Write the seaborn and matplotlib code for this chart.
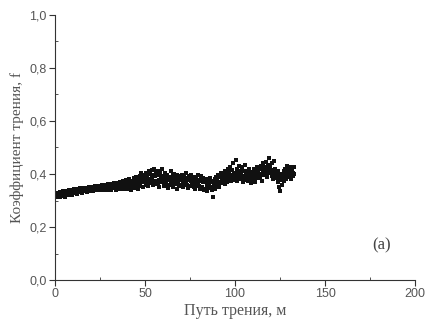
import numpy as np
import pandas as pd
import matplotlib
matplotlib.use("Agg")
import matplotlib.pyplot as plt
from matplotlib.ticker import MultipleLocator, FuncFormatter
import seaborn as sns

# friction coefficient measured along the friction path (sampling step ~0.333 m)
step_m = 133.3 / 400
friction = [
    0.318,0.325,0.312,0.330,0.321,0.316,0.327,0.319,0.333,0.314,
    0.322,0.329,0.317,0.334,0.320,0.326,0.313,0.331,0.324,0.319,
    0.336,0.324,0.331,0.341,0.322,0.333,0.328,0.338,0.320,0.335,
    0.339,0.328,0.343,0.331,0.336,0.345,0.326,0.340,0.333,0.337,
    0.341,0.332,0.346,0.336,0.343,0.329,0.340,0.348,0.334,0.339,
    0.344,0.335,0.349,0.338,0.333,0.346,0.341,0.350,0.336,0.343,
    0.339,0.347,0.352,0.336,0.344,0.341,0.354,0.338,0.349,0.345,
    0.351,0.342,0.356,0.339,0.348,0.345,0.353,0.340,0.357,0.347,
    0.344,0.353,0.339,0.358,0.349,0.346,0.355,0.341,0.350,0.361,
    0.356,0.343,0.352,0.362,0.340,0.349,0.358,0.346,0.365,0.351,
    0.347,0.360,0.338,0.355,0.366,0.350,0.343,0.361,0.353,0.371,
    0.362,0.345,0.368,0.351,0.374,0.342,0.359,0.366,0.348,0.378,
    0.352,0.371,0.345,0.365,0.380,0.356,0.340,0.369,0.375,0.350,
    0.372,0.355,0.385,0.348,0.368,0.390,0.360,0.377,0.343,0.381,
    0.365,0.392,0.354,0.380,0.402,0.368,0.385,0.350,0.397,0.375,
    0.388,0.360,0.405,0.372,0.395,0.355,0.410,0.382,0.366,0.400,
    0.370,0.415,0.385,0.358,0.398,0.420,0.375,0.392,0.362,0.408,
    0.395,0.365,0.412,0.378,0.350,0.402,0.388,0.368,0.418,0.383,
    0.370,0.392,0.355,0.385,0.405,0.362,0.378,0.398,0.348,0.382,
    0.388,0.358,0.380,0.410,0.366,0.372,0.395,0.352,0.384,0.400,
    0.362,0.390,0.375,0.345,0.398,0.368,0.382,0.356,0.392,0.378,
    0.385,0.358,0.395,0.370,0.350,0.388,0.376,0.362,0.402,0.366,
    0.360,0.385,0.348,0.378,0.392,0.355,0.372,0.398,0.362,0.380,
    0.376,0.352,0.390,0.365,0.345,0.382,0.370,0.358,0.395,0.362,
    0.355,0.378,0.345,0.372,0.392,0.350,0.368,0.385,0.340,0.375,
    0.368,0.342,0.380,0.355,0.335,0.372,0.360,0.348,0.385,0.352,
    0.350,0.375,0.338,0.368,0.312,0.358,0.380,0.345,0.365,0.390,
    0.382,0.360,0.395,0.368,0.350,0.388,0.402,0.365,0.378,0.392,
    0.375,0.405,0.390,0.362,0.412,0.385,0.398,0.370,0.420,0.392,
    0.408,0.380,0.425,0.395,0.372,0.415,0.440,0.388,0.402,0.378,
    0.390,0.452,0.405,0.375,0.418,0.395,0.430,0.382,0.410,0.398,
    0.402,0.380,0.425,0.392,0.370,0.412,0.388,0.435,0.398,0.376,
    0.385,0.410,0.372,0.398,0.420,0.380,0.395,0.365,0.408,0.390,
    0.402,0.378,0.418,0.390,0.370,0.412,0.398,0.425,0.385,0.405,
    0.392,0.420,0.385,0.430,0.400,0.375,0.415,0.440,0.395,0.410,
    0.425,0.398,0.445,0.412,0.390,0.435,0.418,0.462,0.402,0.428,
    0.415,0.392,0.440,0.405,0.380,0.450,0.398,0.420,0.385,0.410,
    0.395,0.368,0.410,0.350,0.385,0.335,0.378,0.400,0.360,0.392,
    0.385,0.412,0.372,0.420,0.398,0.380,0.430,0.402,0.390,0.415,
    0.410,0.388,0.425,0.398,0.380,0.418,0.405,0.392,0.428,0.400,
]
distance = np.arange(len(friction)) * step_m

x_ticks = [0, 50, 100, 150, 200]
y_ticks = [0.0, 0.2, 0.4, 0.6, 0.8, 1.0]
x_label = "Путь трения, м"
y_label = "Коэффициент трения, f"
panel_label = "(a)"

df = pd.DataFrame({"distance": distance, "friction": friction})

sns.set_style("ticks")
plt.rcParams["font.family"] = ["Liberation Sans", "DejaVu Sans"]

fig = plt.figure(figsize=(4.27, 3.21), dpi=100)
ax = fig.add_axes([0.1288, 0.1277, 0.8432, 0.8256])

sns.scatterplot(data=df, x="distance", y="friction", ax=ax, marker="s",
                s=8, color="#111111", linewidth=0, legend=False)

ax.set_xlim(0, 200)
ax.set_ylim(0, 1.0)
ax.set_xticks(x_ticks)
ax.set_yticks(y_ticks)
ax.xaxis.set_minor_locator(MultipleLocator(25))
ax.yaxis.set_minor_locator(MultipleLocator(0.1))
ax.yaxis.set_major_formatter(FuncFormatter(lambda v, p: f"{v:.1f}".replace(".", ",")))
ax.xaxis.set_major_formatter(FuncFormatter(lambda v, p: f"{v:.0f}"))

sns.despine(ax=ax)
for sp in ("left", "bottom"):
    ax.spines[sp].set_color("#333333")
    ax.spines[sp].set_linewidth(0.8)

ax.tick_params(which="major", direction="out", length=4, width=0.8,
               color="#333333", labelsize=9, labelcolor="#555555", pad=2)
ax.tick_params(which="minor", direction="in", length=2.5, width=0.6, color="#333333")

serif = ["Liberation Serif", "DejaVu Serif"]
ax.set_xlabel(x_label, family=serif, fontsize=11.5, color="#555555", labelpad=2)
ax.set_ylabel(y_label, family=serif, fontsize=11, color="#555555", labelpad=4)
ax.text(181.5, 0.13, panel_label, family=serif, fontsize=12, color="#444444",
        ha="center", va="center")

fig.savefig("out.png", dpi=100)
